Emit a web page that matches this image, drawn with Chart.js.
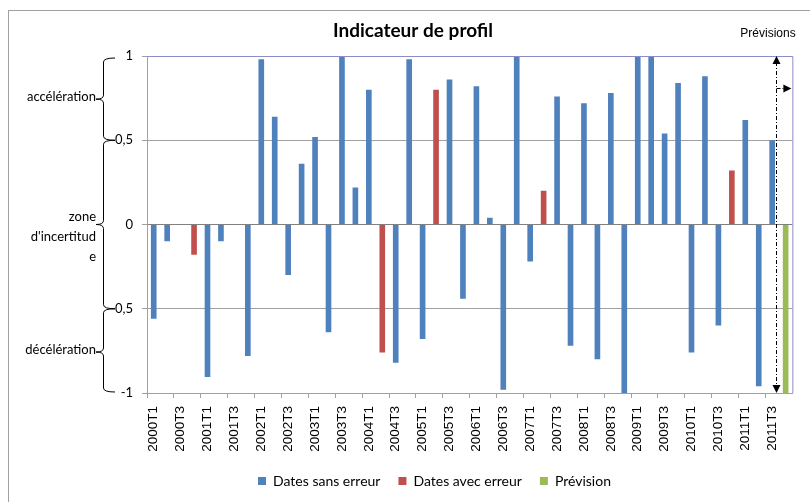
<!DOCTYPE html>
<html>
<head>
<meta charset="utf-8">
<script src="https://cdn.jsdelivr.net/npm/chart.js@4"></script>
<style>
  body { margin: 0; background: #fff; }
  canvas { display: block; }
</style>
</head>
<body>
<canvas id="profilChart" width="810" height="502"></canvas>
<script>
const quarters = [
    '2000T1', '2000T2', '2000T3', '2000T4', '2001T1', '2001T2', '2001T3', '2001T4',
    '2002T1', '2002T2', '2002T3', '2002T4', '2003T1', '2003T2', '2003T3', '2003T4',
    '2004T1', '2004T2', '2004T3', '2004T4', '2005T1', '2005T2', '2005T3', '2005T4',
    '2006T1', '2006T2', '2006T3', '2006T4', '2007T1', '2007T2', '2007T3', '2007T4',
    '2008T1', '2008T2', '2008T3', '2008T4', '2009T1', '2009T2', '2009T3', '2009T4',
    '2010T1', '2010T2', '2010T3', '2010T4', '2011T1', '2011T2', '2011T3', '2011T4'
];

// one value per quarter, null where the quarter belongs to another series
const sansErreur = [
    -0.56, -0.10, null, null, -0.905, -0.10, null, -0.78,
    0.98, 0.64, -0.30, 0.36, 0.52, -0.64, 1.00, 0.22,
    0.80, null, -0.82, 0.98, -0.68, null, 0.86, -0.44,
    0.82, 0.04, -0.98, 1.00, -0.22, null, 0.76, -0.72,
    0.72, -0.80, 0.78, -1.00, 1.00, 1.00, 0.54, 0.84,
    -0.76, 0.88, -0.60, null, 0.62, -0.96, 0.50, null
];
const avecErreur = [
    null, null, null, -0.18, null, null, null, null,
    null, null, null, null, null, null, null, null,
    null, -0.76, null, null, null, 0.80, null, null,
    null, null, null, null, null, 0.20, null, null,
    null, null, null, null, null, null, null, null,
    null, null, null, 0.32, null, null, null, null
];
const prevision = [
    null, null, null, null, null, null, null, null,
    null, null, null, null, null, null, null, null,
    null, null, null, null, null, null, null, null,
    null, null, null, null, null, null, null, null,
    null, null, null, null, null, null, null, null,
    null, null, null, null, null, null, null, -1.00
];

const zones = [
    { label: ['accélération'], from: 1, to: 0.5 },
    { label: ['zone', "d'incertitud", 'e'], from: 0.5, to: -0.5 },
    { label: ['décélération'], from: -0.5, to: -1 }
];

const gray = '#a0a0a0';
const frame = '#8c8cc8';

function drawBrace(ctx, xs, xe, xt, y1, y2, ym) {
    const r = 4;
    ctx.beginPath();
    ctx.moveTo(xe, y1);
    ctx.quadraticCurveTo(xs, y1, xs, y1 + r);
    ctx.lineTo(xs, ym - r);
    ctx.quadraticCurveTo(xs, ym, xt, ym);
    ctx.quadraticCurveTo(xs, ym, xs, ym + r);
    ctx.lineTo(xs, y2 - r);
    ctx.quadraticCurveTo(xs, y2, xe, y2);
    ctx.stroke();
}

function arrowHead(ctx, x, y, dir) {
    ctx.beginPath();
    if (dir === 'up') {
        ctx.moveTo(x, y); ctx.lineTo(x - 4, y + 8); ctx.lineTo(x + 4, y + 8);
    } else if (dir === 'down') {
        ctx.moveTo(x, y); ctx.lineTo(x - 4, y - 8); ctx.lineTo(x + 4, y - 8);
    } else {
        ctx.moveTo(x, y); ctx.lineTo(x - 8, y - 4); ctx.lineTo(x - 8, y + 4);
    }
    ctx.closePath();
    ctx.fill();
}

const decorations = {
    id: 'decorations',
    beforeDraw(chart) {
        const ctx = chart.ctx;
        ctx.save();
        ctx.fillStyle = '#fff';
        ctx.fillRect(0, 0, chart.width, chart.height);
        ctx.restore();
    },
    afterDraw(chart) {
        const { ctx, chartArea: a, scales: { x, y } } = chart;
        ctx.save();

        // outer frame of the chart
        ctx.strokeStyle = gray;
        ctx.lineWidth = 1;
        ctx.strokeRect(8.5, 10.5, 900, 600);

        // plot area border, top and right
        ctx.strokeStyle = frame;
        ctx.beginPath();
        ctx.moveTo(a.left, a.top + 0.5);
        ctx.lineTo(a.right + 0.5, a.top + 0.5);
        ctx.lineTo(a.right + 0.5, a.bottom);
        ctx.stroke();

        // title
        ctx.fillStyle = '#000';
        ctx.font = 'bold 19px Lato';
        ctx.textAlign = 'center';
        ctx.textBaseline = 'middle';
        ctx.fillText('Indicateur de profil', 413, 31);

        // forecast marker
        ctx.font = '12px "Liberation Sans"';
        ctx.fillText('Prévisions', 768, 34);
        const xf = Math.round(x.getPixelForValue(46.25)) + 0.5;
        ctx.strokeStyle = '#000';
        ctx.setLineDash([4, 2, 1, 2]);
        ctx.beginPath();
        ctx.moveTo(xf, a.top + 6);
        ctx.lineTo(xf, a.bottom - 6);
        ctx.moveTo(xf, 88.5);
        ctx.lineTo(a.right - 6, 88.5);
        ctx.stroke();
        ctx.setLineDash([]);
        ctx.fillStyle = '#000';
        arrowHead(ctx, xf, a.top, 'up');
        arrowHead(ctx, xf, a.bottom, 'down');
        arrowHead(ctx, a.right - 1, 88.5, 'right');

        // braces with zone names
        ctx.strokeStyle = '#000';
        ctx.lineWidth = 1;
        ctx.font = '13px Lato';
        ctx.textAlign = 'right';
        zones.forEach((z, i) => {
            const y1 = y.getPixelForValue(z.from) + (i === 0 ? 2 : 0);
            const y2 = y.getPixelForValue(z.to) - (i === zones.length - 1 ? 1 : 0);
            const ym = i === 2 ? y1 + (y2 - y1) * 0.52 : (y1 + y2) / 2;
            drawBrace(ctx, 103.5, 115, 96, y1, y2, ym);
            const lh = 20;
            const start = i === 1 ? ym - 8 : ym - 2;
            z.label.forEach((t, k) => {
                ctx.fillText(t, 96, start + k * lh);
            });
        });

        ctx.restore();
    }
};

new Chart(document.getElementById('profilChart'), {
    type: 'bar',
    data: {
        labels: quarters,
        datasets: [
            { label: 'Dates sans erreur', data: sansErreur, backgroundColor: '#4f81bd' },
            { label: 'Dates avec erreur', data: avecErreur, backgroundColor: '#c0504d' },
            { label: 'Prévision', data: prevision, backgroundColor: '#9bbb59' }
        ]
    },
    options: {
        responsive: false,
        animation: false,
        layout: { padding: { left: 76, right: 17, top: 56, bottom: 4 } },
        datasets: { bar: { categoryPercentage: 1, barPercentage: 0.42, borderWidth: 0 } },
        plugins: {
            title: { display: false },
            tooltip: { enabled: false },
            legend: {
                position: 'bottom',
                labels: {
                    boxWidth: 8,
                    boxHeight: 8,
                    padding: 18,
                    color: '#000',
                    font: { family: 'Lato', size: 14 }
                }
            }
        },
        scales: {
            x: {
                stacked: true,
                afterFit: scale => { scale.height = 63; },
                border: { display: true, color: gray },
                grid: {
                    offset: true,
                    drawOnChartArea: false,
                    drawTicks: true,
                    tickLength: 5,
                    tickColor: c => (c.index % 2 === 0 ? gray : 'rgba(0,0,0,0)')
                },
                ticks: {
                    autoSkip: false,
                    maxRotation: 90,
                    minRotation: 90,
                    padding: 8,
                    color: '#000',
                    font: { family: 'Liberation Sans', size: 13.5 },
                    callback: (v, i) => (i % 2 === 0 ? quarters[i] : '')
                }
            },
            y: {
                stacked: true,
                min: -1,
                max: 1,
                afterFit: scale => { scale.width = 71; },
                border: { display: true, color: gray },
                grid: {
                    color: c => (c.tick.value === 0 ? '#808080' : c.tick.value === 1 ? frame : gray),
                    tickColor: gray,
                    tickLength: 5
                },
                ticks: {
                    stepSize: 0.5,
                    padding: 9,
                    color: '#000',
                    font: { family: 'Lato', size: 13 },
                    callback: v => String(v).replace('.', ',')
                }
            }
        }
    },
    plugins: [decorations]
});
</script>
</body>
</html>
